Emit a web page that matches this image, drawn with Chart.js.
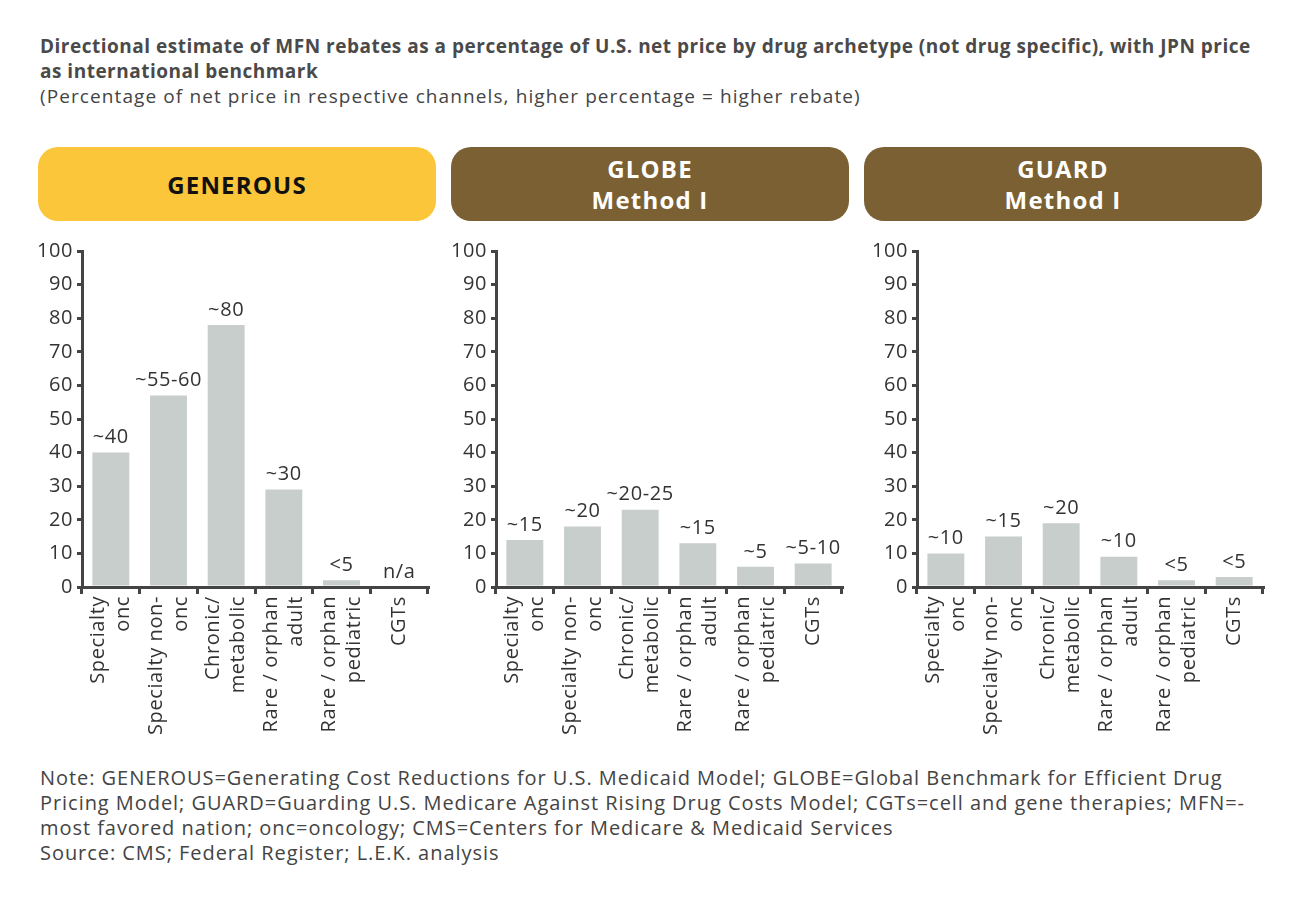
<!DOCTYPE html>
<html>
<head>
<meta charset="utf-8">
<script src="https://cdn.jsdelivr.net/npm/chart.js@4.4.0/dist/chart.umd.min.js"></script>
<style>
  body { margin: 0; background: #fff; font-family: "Open Sans", sans-serif; color: #444; }
  #page { position: relative; width: 1300px; height: 899px; }
  .title { position: absolute; left: 40px; top: 34px; white-space: nowrap; font-size: 19px; font-weight: bold; line-height: 25px; color: #4a4a4a; letter-spacing: 0.5px; }
  .sub { position: absolute; left: 40px; top: 84px; white-space: nowrap; font-size: 19px; line-height: 25px; color: #444; letter-spacing: 1.1px; }
  .hdr { position: absolute; top: 147px; width: 398px; height: 74px; border-radius: 20px;
         display: flex; align-items: center; justify-content: center; text-align: center;
         font-size: 24px; font-weight: bold; line-height: 31px; letter-spacing: 1.2px; }
  .panel { position: absolute; top: 235px; width: 410px; height: 507px; }
  .note { position: absolute; left: 40px; top: 765px; white-space: nowrap; font-size: 20px; line-height: 25px; color: #444; letter-spacing: 0.95px; }
</style>
</head>
<body>
<div id="page">
  <div class="title">Directional estimate of MFN rebates as a percentage of U.S. net price by drug archetype (not drug specific), with JPN price<br>as international benchmark</div>
  <div class="sub">(Percentage of net price in respective channels, higher percentage = higher rebate)</div>

  <div class="hdr" style="left:38px; background:#fcc63a; color:#111;">GENEROUS</div>
  <div class="hdr" style="left:451px; background:#7b6033; color:#fff;">GLOBE<br>Method I</div>
  <div class="hdr" style="left:864px; background:#7b6033; color:#fff;">GUARD<br>Method I</div>

  <div class="panel" style="left:30px;"><canvas id="c1"></canvas></div>
  <div class="panel" style="left:444px;"><canvas id="c2"></canvas></div>
  <div class="panel" style="left:865px;"><canvas id="c3"></canvas></div>

  <div class="note">Note: GENEROUS=Generating Cost Reductions for U.S. Medicaid Model; GLOBE=Global Benchmark for Efficient Drug<br>Pricing Model; GUARD=Guarding U.S. Medicare Against Rising Drug Costs Model; CGTs=cell and gene therapies; MFN=-<br>most favored nation; onc=oncology; CMS=Centers for Medicare &amp; Medicaid Services<br>Source: CMS; Federal Register; L.E.K. analysis</div>
</div>

<script>
// categories shared by all three panels ('' pads the single-line CGTs label)
const categories = [
  ['Specialty', 'onc'],
  ['Specialty non-', 'onc'],
  ['Chronic/', 'metabolic'],
  ['Rare / orphan', 'adult'],
  ['Rare / orphan', 'pediatric'],
  ['', 'CGTs']
];

// estimated bar heights
const generousValues = [40, 57, 78, 29, 2, 0];
const globeValues = [14, 18, 23, 13, 6, 7];
const guardValues = [10, 15, 19, 9, 2, 3];

// labels printed above each bar
const generousLabels = ['~40', '~55-60', '~80', '~30', '<5', 'n/a'];
const globeLabels = ['~15', '~20', '~20-25', '~15', '~5', '~5-10'];
const guardLabels = ['~10', '~15', '~20', '~10', '<5', '<5'];

const yTicks = [0, 10, 20, 30, 40, 50, 60, 70, 80, 90, 100];

const FONT = '"Open Sans", sans-serif';
const AXIS = '#444444';
const LINE_H = 25;

// wider letter spacing like the original typeface
const spacingPlugin = {
  id: 'spacing',
  beforeLayout(chart) { chart.ctx.letterSpacing = '0.6px'; },
  beforeDraw(chart) { chart.ctx.letterSpacing = '0.6px'; }
};

// draws the "~40" style text on top of each bar
const barLabelPlugin = {
  id: 'barLabels',
  afterDatasetsDraw(chart) {
    const labels = chart.options.plugins.barLabels.labels;
    const meta = chart.getDatasetMeta(0);
    const ctx = chart.ctx;
    ctx.save();
    ctx.font = '20px ' + FONT;
    ctx.fillStyle = '#333';
    ctx.textAlign = 'center';
    ctx.textBaseline = 'bottom';
    meta.data.forEach((bar, i) => {
      ctx.fillText(labels[i], bar.x, bar.y - 5);
    });
    ctx.restore();
  }
};

function makeChart(id, values, labels) {
  const canvas = document.getElementById(id);
  const ctx = canvas.getContext('2d');
  return new Chart(ctx, {
    type: 'bar',
    data: {
      labels: categories,
      datasets: [{
        data: values,
        backgroundColor: '#c7cecb',
        borderWidth: 0,
        barPercentage: 0.64,
        categoryPercentage: 1
      }]
    },
    options: {
      responsive: true,
      maintainAspectRatio: false,
      animation: false,
      layout: { padding: { top: 13, right: 12, left: 0, bottom: 0 } },
      plugins: {
        legend: { display: false },
        tooltip: { enabled: false },
        barLabels: { labels: labels }
      },
      scales: {
        x: {
          grid: {
            offset: true,
            drawOnChartArea: false,
            drawTicks: true,
            tickLength: 7,
            color: AXIS,
            lineWidth: 3
          },
          border: { display: true, color: AXIS, width: 3 },
          ticks: {
            color: '#333',
            // last label is a padded one-liner: half line height keeps it centred
            font: c => ({ family: FONT, size: 20, lineHeight: (c.index === 5 ? LINE_H / 2 : LINE_H) + 'px' }),
            labelOffset: -LINE_H / 2,
            maxRotation: 90,
            minRotation: 90,
            padding: 2,
            autoSkip: false
          },
          afterFit: s => { s.height = 155; }
        },
        y: {
          min: 0,
          max: 100,
          afterBuildTicks: s => { s.ticks = yTicks.map(v => ({ value: v })); },
          grid: {
            drawOnChartArea: false,
            drawTicks: true,
            tickLength: 5,
            color: AXIS,
            lineWidth: 3
          },
          border: { display: true, color: AXIS, width: 3 },
          ticks: {
            color: '#333',
            font: { family: FONT, size: 20 },
            padding: 4
          },
          afterFit: s => { s.width = 52; }
        }
      }
    },
    plugins: [spacingPlugin, barLabelPlugin]
  });
}

makeChart('c1', generousValues, generousLabels);
makeChart('c2', globeValues, globeLabels);
makeChart('c3', guardValues, guardLabels);
</script>
</body>
</html>
